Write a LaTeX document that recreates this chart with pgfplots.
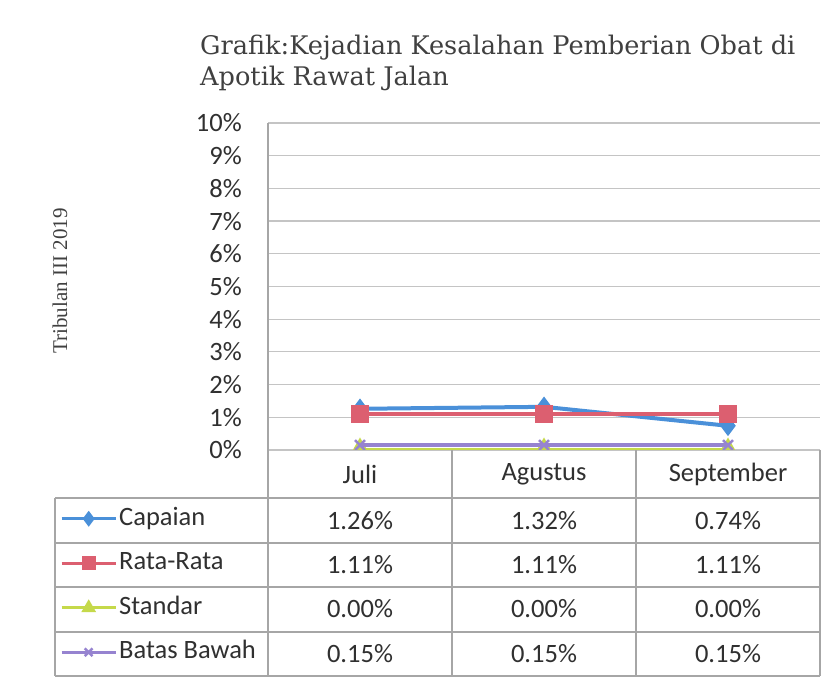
\documentclass[border=0pt]{standalone}
\usepackage{pgfplots}
\pgfplotsset{compat=1.18}
\usepackage{fontspec}
\setmainfont{Carlito}
\newfontfamily\titlefont{DejaVu Serif}
\newfontfamily\labelfont{Liberation Serif}
\definecolor{capaian}{HTML}{4A90D9}
\definecolor{rata}{HTML}{DC5F70}
\definecolor{standar}{HTML}{C5D94A}
\definecolor{batas}{HTML}{9683D0}
\definecolor{gridgray}{HTML}{C4C4C4}
\definecolor{axisgray}{HTML}{A6A6A6}
\definecolor{textcol}{HTML}{303030}
\definecolor{titlecol}{HTML}{404040}
\begin{document}
\begin{tikzpicture}[x=1pt,y=1pt]
\useasboundingbox (0,0) rectangle (832,684);
\fill[white] (0,0) rectangle (832,684);
\node[anchor=base west, inner sep=0pt, font=\titlefont\fontsize{25.6}{30}\selectfont, text=titlecol] at (200,629) {Grafik:Kejadian Kesalahan Pemberian Obat di};
\node[anchor=base west, inner sep=0pt, font=\titlefont\fontsize{25.6}{30}\selectfont, text=titlecol] at (200,598) {Apotik Rawat Jalan};
\node[rotate=90, inner sep=0pt, font=\labelfont\fontsize{21}{24}\selectfont, text=titlecol] at (60,403) {Tribulan III 2019};
\begin{axis}[
  at={(268pt,234pt)}, anchor=south west, scale only axis,
  width=552pt, height=327pt,
  xmin=0.5, xmax=3.5, ymin=0, ymax=10,
  xtick=\empty, ytick={0,1,...,10},
  yticklabel={\pgfmathprintnumber{\tick}\%},
  /pgf/number format/assume math mode=true,
  ticklabel style={font=\fontsize{26.5}{30}\selectfont, text=textcol},
  yticklabel style={inner sep=0pt, anchor=east, xshift=-26pt},
  axis x line=none, axis y line*=left,
  y axis line style={draw=axisgray, line width=1.2pt, -},
  ymajorgrids, grid style={gridgray, line width=1.2pt},
  major tick length=0pt,
  tick style={draw=none},
  clip=true, clip marker paths=true,
  legend cell align=left,
  legend image code/.code={\draw[mark repeat=2,mark phase=2] plot coordinates {(0pt,0pt) (27pt,0pt) (54pt,0pt)};},
  legend image post style={line width=3pt, mark size=5.5pt},
  legend style={at={(axis description cs:-0.3768,-0.4144)}, anchor=west, draw=none, fill=none, inner sep=0pt, row sep=21.5pt,
    nodes={inner ysep=0pt, inner xsep=2pt, text height=18pt, text depth=5pt, font=\fontsize{26.5}{30}\selectfont, text=textcol}},
]
\addplot[capaian, line width=4pt, mark=diamond*, mark size=7pt, mark options={solid}] coordinates {(1,1.26) (2,1.32) (3,0.74)};
\addlegendentry{Capaian}
\addplot[rata, line width=4pt, mark=square*, mark size=7pt] coordinates {(1,1.11) (2,1.11) (3,1.11)};
\addlegendentry{Rata-Rata}
\addplot[standar, line width=4pt, mark=triangle*, mark size=8.5pt] coordinates {(1,0.00) (2,0.00) (3,0.00)};
\addlegendentry{Standar}
\addplot[batas, line width=4pt, mark=x, mark size=7pt, mark options={line width=2.5pt}] coordinates {(1,0.15) (2,0.15) (3,0.15)};
\addlegendentry{Batas Bawah}
\end{axis}
% data table
\begin{scope}[axisgray, line width=1.2pt]
\draw (55,186) -- (820,186);
\draw (55,141) -- (820,141);
\draw (55,97) -- (820,97);
\draw (55,52) -- (820,52);
\draw (55,8) -- (820,8);
\draw (55,186) -- (55,8);
\draw (268,234) -- (268,8);
\draw (452,234) -- (452,8);
\draw (636,234) -- (636,8);
\draw (820,234) -- (820,8);
\end{scope}
\begin{scope}[every node/.style={font=\fontsize{26.5}{30}\selectfont, text=textcol, inner sep=0pt}]
\node at (360,210) {Juli};
\node at (544,210) {Agustus};
\node at (728,210) {September};
\node at (360,163) {1.26\%}; \node at (544,163) {1.32\%}; \node at (728,163) {0.74\%};
\node at (360,119) {1.11\%}; \node at (544,119) {1.11\%}; \node at (728,119) {1.11\%};
\node at (360,75) {0.00\%}; \node at (544,75) {0.00\%}; \node at (728,75) {0.00\%};
\node at (360,30) {0.15\%}; \node at (544,30) {0.15\%}; \node at (728,30) {0.15\%};
\end{scope}
\end{tikzpicture}
\end{document}
